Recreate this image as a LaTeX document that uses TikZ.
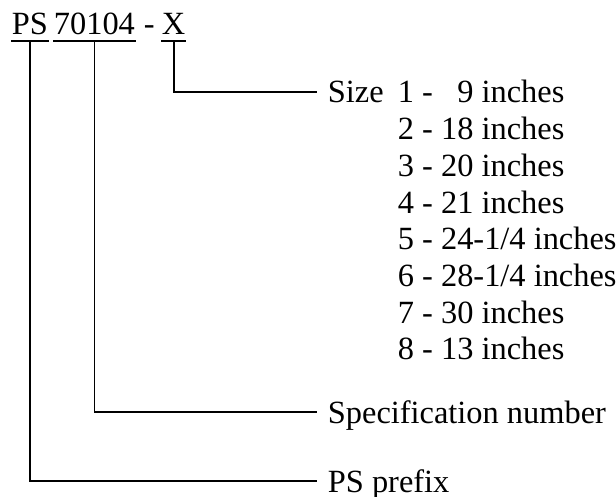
\documentclass[tikz,border=0pt]{standalone}
\usepackage{fontspec}
\setmainfont{Liberation Serif}
\usetikzlibrary{positioning}

\begin{document}
\begin{tikzpicture}[x=0.5pt,y=-0.5pt,line width=0.9pt,
  every node/.style={inner sep=0pt,anchor=base west,font=\fontsize{16.2}{18}\selectfont},
  lbl/.style={inner xsep=5pt}]
  \useasboundingbox (0,0) rectangle (616,497);
  % part number
  \node (ps) at (11,35) {PS};
  \node (spec) at (53,35) {70104};
  \node (dash) at (143,35) {-};
  \node (size) at (161,35) {X};
  \foreach \P in {ps,spec,size}
    \draw ([yshift=-3pt]\P.base west) -- ([yshift=-3pt]\P.base east);
  % labels
  \node[lbl] (sizelbl) at (317,103) {Size};
  \foreach \len [count=\n] in {\phantom{1}9,18,20,21,{24-1/4},{28-1/4},30,13}
    \node (row\n) at (397,{103+36.7*(\n-1)}) {\n{} - \len{} inches};
  \node[lbl] (speclbl) at (317,423) {Specification number};
  \node[lbl] (pslbl) at (317,492) {PS prefix};
  % leaders
  \draw ([yshift=-3pt]size.base) |- ([yshift=5.5pt]sizelbl.base west);
  \draw ([yshift=-3pt]spec.base) |- ([yshift=5.5pt]speclbl.base west);
  \draw ([yshift=-3pt]ps.base) |- ([yshift=5.5pt]pslbl.base west);
\end{tikzpicture}
\end{document}
